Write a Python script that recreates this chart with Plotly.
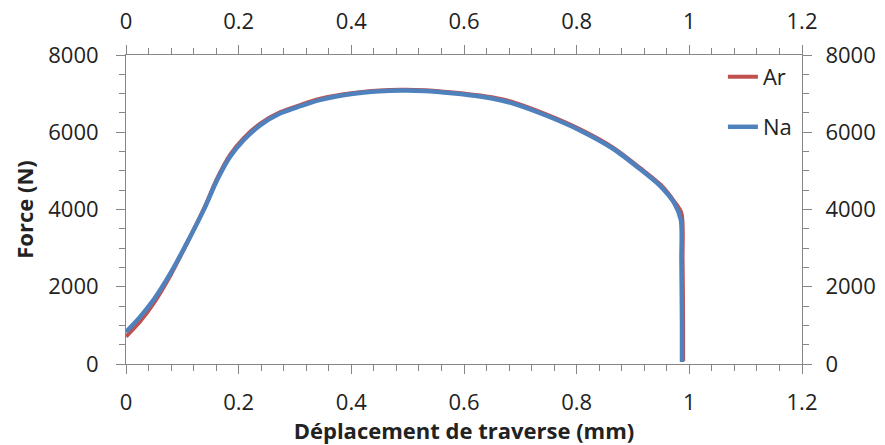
import plotly.graph_objects as go

# courbes force / déplacement
na_x = [0, 0.025, 0.049, 0.079, 0.108, 0.138, 0.162, 0.185, 0.209, 0.239, 0.274, 0.31,
        0.345, 0.4, 0.45, 0.487, 0.53, 0.58, 0.629, 0.665, 0.688, 0.748, 0.807, 0.866,
        0.913, 0.949, 0.973, 0.985, 0.986, 0.987, 0.987]
na_y = [830, 1220, 1660, 2350, 3130, 3990, 4770, 5370, 5800, 6190, 6490, 6680,
        6840, 6990, 7060, 7080, 7070, 7010, 6925, 6830, 6740, 6420, 6040, 5560,
        5040, 4600, 4170, 3731, 2694, 1000, 50]

ar_x = [0, 0.025, 0.049, 0.079, 0.108, 0.138, 0.162, 0.185, 0.209, 0.239, 0.274, 0.31,
        0.345, 0.4, 0.45, 0.487, 0.53, 0.58, 0.629, 0.665, 0.688, 0.748, 0.807, 0.866,
        0.913, 0.949, 0.973, 0.986, 0.988, 0.989, 0.989]
ar_y = [710, 1100, 1570, 2300, 3120, 4010, 4810, 5420, 5850, 6230, 6520, 6710,
        6870, 7010, 7080, 7100, 7090, 7030, 6950, 6860, 6770, 6450, 6070, 5590,
        5070, 4640, 4210, 3900, 2700, 1000, 80]

x_ticks = [0, 0.2, 0.4, 0.6, 0.8, 1, 1.2]
x_labels = ['0', '0.2', '0.4', '0.6', '0.8', '1', '1.2']
y_ticks = [0, 2000, 4000, 6000, 8000]

red = '#C0504D'
blue = '#4F81BD'
grey = '#868686'
font = '"Open Sans", Lato, sans-serif'

fig = go.Figure()
fig.add_trace(go.Scatter(x=ar_x, y=ar_y, mode='lines', name='Ar',
                         line=dict(color=red, width=4, shape='spline', smoothing=0.8),
                         legend='legend'))
fig.add_trace(go.Scatter(x=na_x, y=na_y, mode='lines', name='Na',
                         line=dict(color=blue, width=4.5, shape='spline', smoothing=0.8),
                         legend='legend2'))
# trace invisible pour faire apparaître les axes du haut et de droite
fig.add_trace(go.Scatter(x=na_x, y=na_y, mode='lines', xaxis='x2', yaxis='y2',
                         line=dict(width=0), opacity=0, showlegend=False,
                         hoverinfo='skip'))

axis_common = dict(showline=True, linecolor=grey, linewidth=1, showgrid=False,
                   zeroline=False, ticks='outside', ticklen=9, tickcolor=grey,
                   automargin=False,
                   tickfont=dict(family=font, size=22, color='#222'))

fig.update_layout(
    width=885, height=445,
    margin=dict(l=126, r=83, t=55, b=81),
    paper_bgcolor='white', plot_bgcolor='white',
    font=dict(family=font, color='#222'),
    xaxis=dict(range=[0, 1.2], tickvals=x_ticks, ticktext=x_labels,
               minor=dict(dtick=0.04, ticks='outside', ticklen=6, tickcolor=grey),
               title=dict(text='<b>Déplacement de traverse (mm)</b>',
                          font=dict(size=22), standoff=7),
               ticklabelstandoff=10, **axis_common),
    yaxis=dict(range=[0, 8000], tickvals=y_ticks,
               minor=dict(dtick=500, ticks='outside', ticklen=6, tickcolor=grey),
               title=dict(text='<b>Force (N)</b>', font=dict(size=22), standoff=8),
               ticklabelstandoff=13, **axis_common),
    xaxis2=dict(range=[0, 1.2], tickvals=x_ticks, ticktext=x_labels,
                overlaying='x', side='top',
                minor=dict(dtick=0.04, ticks='outside', ticklen=6, tickcolor=grey),
                ticklabelstandoff=7, **axis_common),
    yaxis2=dict(range=[0, 8000], tickvals=y_ticks, overlaying='y', side='right',
                minor=dict(dtick=500, ticks='outside', ticklen=6, tickcolor=grey),
                ticklabelstandoff=9, **axis_common),
    legend=dict(x=0.883, y=0.929, xanchor='left', yanchor='middle',
                bgcolor='rgba(0,0,0,0)', font=dict(size=22, family=font)),
    legend2=dict(x=0.883, y=0.767, xanchor='left', yanchor='middle',
                 bgcolor='rgba(0,0,0,0)', font=dict(size=22, family=font)),
)

# pas de marge de page autour du graphique, pas de barre d'outils
fig.write_html("out.html", config={'displayModeBar': False},
               post_script="document.body.style.margin='0';")
